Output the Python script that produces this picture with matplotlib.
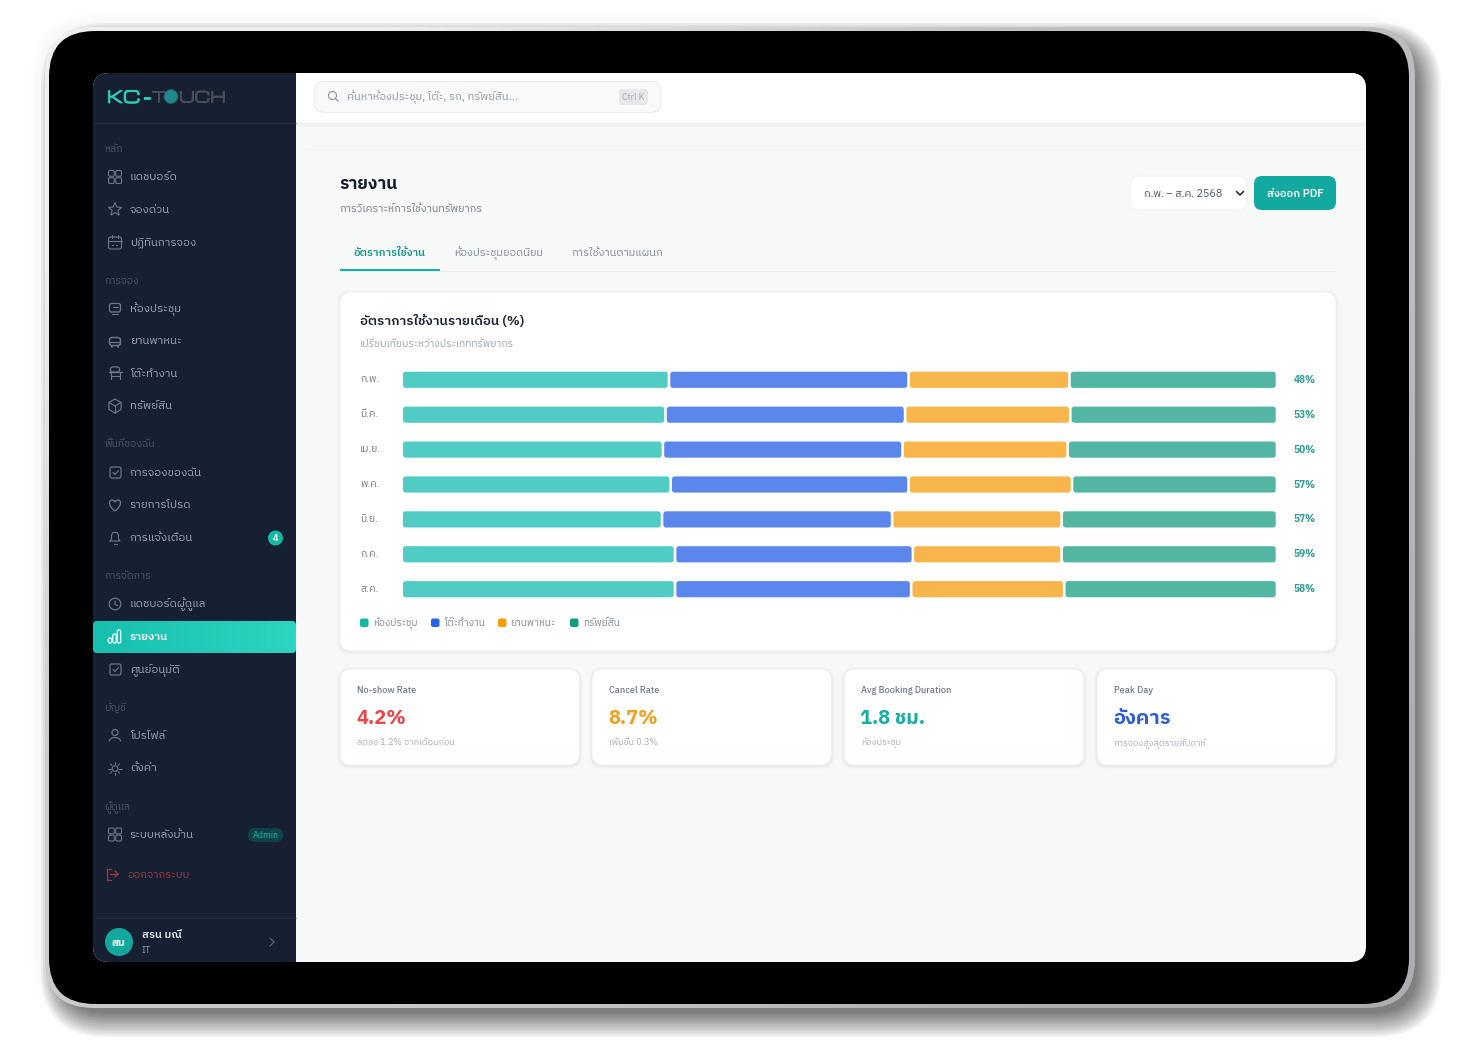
# Report dashboard on a tablet mockup
import matplotlib
matplotlib.use('Agg')
import matplotlib.pyplot as plt
import matplotlib.patheffects as pe
import numpy as np
from matplotlib.colors import LinearSegmentedColormap
from matplotlib.patches import FancyBboxPatch, Circle, Rectangle, Polygon, Arc, PathPatch
from matplotlib.path import Path

plt.rcParams['font.family'] = ['IBM Plex Sans Thai', 'Noto Sans Thai', 'Loma', 'DejaVu Sans']

W, H = 1459, 1042

# chart data, share of each monthly bar (%)
months = ['ก.พ.', 'มี.ค.', 'เม.ย.', 'พ.ค.', 'มิ.ย.', 'ก.ค.', 'ส.ค.']
room_share = [30.6, 30.2, 29.9, 30.8, 29.8, 31.3, 31.3]
desk_share = [27.4, 27.4, 27.4, 27.2, 26.3, 27.2, 27.0]
vehicle_share = [18.3, 18.8, 18.8, 18.6, 19.3, 16.9, 17.4]
asset_share = [23.7, 23.6, 23.9, 23.4, 24.6, 24.6, 24.3]
usage_labels = ['48%', '53%', '50%', '57%', '57%', '59%', '58%']
legend_names = ['ห้องประชุม', 'โต๊ะทำงาน', 'ยานพาหนะ', 'ทรัพย์สิน']

kpi_titles = ['No-show Rate', 'Cancel Rate', 'Avg Booking Duration', 'Peak Day']
kpi_values = ['4.2%', '8.7%', '1.8 ชม.', 'อังคาร']
kpi_notes = ['ลดลง 1.2% จากเดือนก่อน', 'เพิ่มขึ้น 0.3%', 'ห้องประชุม', 'การจองสูงสุดรายสัปดาห์']
kpi_colors = ['#E8474C', '#EFA020', '#17AFA3', '#2F5FD0']

bar_colors = ['#50CCC5', '#5B86EC', '#F8B54C', '#52B6A3']
legend_colors = ['#14B8A6', '#2563EB', '#F59E0B', '#0F9D82']

fig = plt.figure(figsize=(W / 100, H / 100), dpi=100, facecolor='white')
ax = fig.add_axes([0, 0, 1, 1])
ax.set_xlim(0, W)
ax.set_ylim(H, 0)
ax.axis('off')


def lw(px):
    return px * 0.72


def box(x0, y0, x1, y1, r, fc='white', ec='none', elw=1, z=2, alpha=None, a=ax):
    p = FancyBboxPatch((x0 + r, y0 + r), x1 - x0 - 2 * r, y1 - y0 - 2 * r,
                       boxstyle=f'round,pad={r},rounding_size={r}',
                       fc=fc, ec=ec, lw=lw(elw), zorder=z, alpha=alpha)
    a.add_patch(p)
    return p


def soft_shadow(x0, y0, x1, y1, r, spread, dx, dy, color, alpha, steps, z, shrink=0):
    for i in range(steps):
        s = spread - (spread + shrink) * i / steps
        box(x0 + dx - s, y0 + dy - s, x1 + dx + s, y1 + dy + s, max(r + s, 2), fc=color, alpha=alpha, z=z)


def txt(x, y, s, px, color, weight=400, ha='left', z=10, **kw):
    # y is the visual middle of the x-height band
    if ha == 'left':
        x = x - 0.7
    return ax.text(x, y + 0.36 * px, s, fontsize=px * 0.72, color=color, weight=weight,
                   ha=ha, va='baseline', zorder=z, **kw)


def line(xs, ys, color, w=1.1, z=9, **kw):
    ax.plot(xs, ys, color=color, lw=lw(w), zorder=z, solid_capstyle='round',
            solid_joinstyle='round', **kw)


def rule(xs, ys, color, w=1, z=6):
    ax.plot(xs, ys, color=color, lw=lw(w), zorder=z, solid_capstyle='butt')


# tablet body: faint glow all round, heavier shadow to the lower right
soft_shadow(49, 31, 1409, 1005, 46, 18, 0, 0, '#000000', 0.007, 6, 1)
soft_shadow(49, 31, 1409, 1005, 46, 20, 12, 12, '#000000', 0.05, 12, 1, shrink=6)
rim = box(45, 27, 1415, 1008, 49, fc='none', z=2)
rim_img = ax.imshow(np.array([[0.0, 0.75], [0.55, 1.0]]), extent=(45, 1415, 1008, 27), aspect='auto',
                    interpolation='bilinear', zorder=2, vmin=0, vmax=1,
                    cmap=LinearSegmentedColormap.from_list('rim', ['#ECEEF2', '#ABADB1']))
rim_img.set_clip_path(rim)
box(49, 31, 1409, 1004, 46, fc='#000000', z=3)
screen = box(93, 73, 1366, 962, 16, fc='#F7F9F9', z=4)

# sidebar and top bar are clipped to the screen corners
side = Rectangle((93, 73), 203, 889, fc='#172033', ec='none', zorder=5)
ax.add_patch(side)
side.set_clip_path(screen)
topbar = Rectangle((296, 73), 1070, 50, fc='white', ec='none', zorder=5)
ax.add_patch(topbar)
topbar.set_clip_path(screen)
for i in range(4):
    ax.add_patch(Rectangle((296, 123 + i), 1069.5, 1, fc='#E8ECEE', alpha=0.7 - i * 0.17, ec='none', zorder=5))
rule([306, 1365], [148.5, 148.5], '#F0F2F3', z=5)
rule([93, 296], [122.5, 122.5], '#222C40')
rule([93, 295.5], [917.5, 917.5], '#222C40')

# logo
logo_font = ['Michroma', 'Inter', 'DejaVu Sans']
teal_fx = [pe.withStroke(linewidth=0.6, foreground='#2CCFB8')]
grey_fx = [pe.withStroke(linewidth=0.6, foreground='#4A4F57')]
txt(107.5, 97, 'KC', 16.5, '#2CCFB8', 400, family=logo_font, path_effects=teal_fx)
txt(144, 97, '-', 15, '#2CCFB8', 400, family=logo_font, path_effects=teal_fx)
txt(152, 97, 'T', 15, '#4A4F57', 400, family=logo_font, path_effects=grey_fx)
ax.add_patch(Circle((171, 96.5), 7, fc='#1B8C8E', ec='#3A4A55', lw=lw(1), zorder=10))
txt(180, 97, 'UCH', 14.8, '#4A4F57', 400, family=logo_font, path_effects=grey_fx)

# sidebar texts
sections = [('หลัก', 148), ('การจอง', 280), ('พื้นที่ของฉัน', 443), ('การจัดการ', 575), ('บัญชี', 707), ('ผู้ดูแล', 806)]
for s, y in sections:
    txt(105, y, s, 10.5, '#4B566A')

nav_items = [('แดชบอร์ด', 176), ('จองด่วน', 209), ('ปฏิทินการจอง', 241), ('ห้องประชุม', 308),
             ('ยานพาหนะ', 340), ('โต๊ะทำงาน', 373), ('ทรัพย์สิน', 405), ('การจองของฉัน', 472),
             ('รายการโปรด', 504), ('การแจ้งเตือน', 537), ('แดชบอร์ดผู้ดูแล', 603), ('ศูนย์อนุมัติ', 669),
             ('โปรไฟล์', 735), ('ตั้งค่า', 767), ('ระบบหลังบ้าน', 834)]
for s, y in nav_items:
    txt(130.5, y, s, 11.5, '#9AA8BC')

# active item
band = box(93, 621, 296, 653, 4, fc='none', z=6)
grad = np.linspace(0, 1, 64).reshape(1, -1)
im = ax.imshow(grad, extent=(93, 296, 653, 621), aspect='auto', zorder=6,
               cmap=LinearSegmentedColormap.from_list('a', ['#17BFAE', '#2DD4BF']))
im.set_clip_path(band)
ax.set_xlim(0, W)
ax.set_ylim(H, 0)
txt(130.5, 636, 'รายงาน', 11.5, 'white', 600)
for bx, top in [(110, 638), (114.5, 634), (119, 630)]:
    box(bx - 1.7, top, bx + 1.7, 643, 1.6, fc='none', ec='white', elw=1.2, z=9)

# notification badge, admin pill, logout, user
ax.add_patch(Circle((275.5, 538), 7.5, fc='#14B8A6', zorder=8))
txt(275.5, 537.5, '4', 9, 'white', 700, ha='center')
box(248, 828, 283, 842, 7, fc='#10424A', z=8)
txt(265.5, 834.5, 'Admin', 9, '#1BAFA3', 400, ha='center')
txt(128, 874, 'ออกจากระบบ', 11, '#A03A40')
ax.add_patch(Circle((119, 942), 14, fc='#12A89D', zorder=8))
txt(119, 942, 'สม', 11, 'white', 700, ha='center')
txt(142.5, 934, 'สรน มณี', 11, '#E2E8F0', 600)
txt(142.5, 950, 'IT', 9.5, '#8592A6')
line([270, 274, 270], [938, 942, 946], '#5F6B7E', 1.1)

# sidebar icons
ic = '#6B788C'


def grid_icon(cx, cy):
    for dx in (-3.6, 3.6):
        for dy in (-3.6, 3.6):
            box(cx + dx - 2.9, cy + dy - 2.9, cx + dx + 2.9, cy + dy + 2.9, 1.4, fc='none', ec=ic, elw=1.1, z=9)


grid_icon(115, 177)
grid_icon(115, 834.5)
ang = np.deg2rad(np.arange(0, 360, 36) - 90)
rad = np.where(np.arange(10) % 2 == 0, 7, 3)
ax.add_patch(Polygon(np.c_[115 + rad * np.cos(ang), 209.5 + rad * np.sin(ang)], fc='none', ec=ic, lw=lw(1.1), zorder=9))
# calendar
box(108.5, 237, 121.5, 249, 2, fc='none', ec=ic, elw=1.1, z=9)
line([108.5, 121.5], [241, 241], ic)
line([112, 112], [235, 238], ic)
line([118, 118], [235, 238], ic)
line([112, 113], [245, 245], ic)
line([116, 117], [245, 245], ic)
# room
box(109.5, 303.5, 120.5, 312, 2, fc='none', ec=ic, elw=1.3, z=9)
line([112.5, 117.5], [307, 307], ic)
line([112, 118], [314, 314], ic)
# vehicle
box(109.5, 337.5, 120.5, 345.5, 2.5, fc='none', ec=ic, elw=1.4, z=9)
line([110, 120], [341.5, 341.5], ic, 1.2)
line([112, 112], [345.5, 347], ic, 1.8)
line([118, 118], [345.5, 347], ic, 1.8)
# desk
box(110.5, 367, 119.5, 372, 2, fc='none', ec=ic, elw=1.2, z=9)
line([108.5, 121.5], [372, 372], ic, 1.3)
line([110.5, 110.5], [372, 378.5], ic, 1.2)
line([119.5, 119.5], [372, 378.5], ic, 1.2)
line([110.5, 119.5], [375.5, 375.5], ic, 1.1)
# asset
hex_ang = np.deg2rad(np.arange(30, 390, 60))
ax.add_patch(Polygon(np.c_[115 + 7 * np.cos(hex_ang), 406 + 7 * np.sin(hex_ang)], fc='none', ec=ic, lw=lw(1.2), zorder=9))
line([109, 115, 121], [402.5, 406, 402.5], ic)
line([115, 115], [406, 413], ic)
# my bookings and approve
for cy in (472.5, 669.5):
    box(110, cy - 5.5, 121, cy + 5.5, 1.8, fc='none', ec=ic, elw=1.2, z=9)
    line([113, 115, 118.5], [cy, cy + 2, cy - 2], ic)
# heart
heart = Path([(115, 511), (108, 506), (108.5, 500), (112, 500), (114, 500), (115, 502), (115, 502),
              (115, 502), (116, 500), (118, 500), (121.5, 500), (122, 506), (115, 511)],
             [Path.MOVETO, Path.CURVE4, Path.CURVE4, Path.CURVE4, Path.CURVE4, Path.CURVE4, Path.CURVE4,
              Path.CURVE4, Path.CURVE4, Path.CURVE4, Path.CURVE4, Path.CURVE4, Path.CURVE4])
ax.add_patch(PathPatch(heart, fc='none', ec=ic, lw=lw(1.3), zorder=9))
# bell
line([110, 111.5, 111.5, 113, 117, 118.5, 118.5, 120, 110], [541, 539, 535, 532.5, 532.5, 535, 539, 541, 541], ic)
line([113.5, 116.5], [543.5, 543.5], ic)
# clock
ax.add_patch(Circle((115, 604), 5.8, fc='none', ec=ic, lw=lw(1.2), zorder=9))
line([115, 115, 117.5], [601, 604.5, 605.5], ic)
# profile
ax.add_patch(Circle((115, 732.5), 3, fc='none', ec=ic, lw=lw(1.2), zorder=9))
ax.add_patch(Arc((115, 741.5), 11.5, 8, theta1=180, theta2=360, ec=ic, lw=lw(1.2), zorder=9))
# settings
ax.add_patch(Circle((115, 768.5), 2.8, fc='none', ec=ic, lw=lw(1.1), zorder=9))
for a_ in np.deg2rad(np.arange(0, 360, 45)):
    line([115 + 4.4 * np.cos(a_), 115 + 6.6 * np.cos(a_)], [768.5 + 4.4 * np.sin(a_), 768.5 + 6.6 * np.sin(a_)], ic, 1)
# logout
line([111, 107, 107, 111], [869, 869, 879.5, 879.5], '#A03A40', 1.3)
line([109.5, 118], [874, 874], '#A03A40', 1.3)
line([115, 118, 115], [871, 874, 877], '#A03A40', 1.3)

# search box
box(314.5, 81.5, 661, 112.5, 10, fc='#F8FAFA', ec='#E8EBED', z=6)
ax.add_patch(Circle((332.5, 95.5), 4, fc='none', ec='#8E98A5', lw=lw(1.2), zorder=9))
line([335.5, 338.5], [98.5, 101.5], '#8E98A5', 1.2)
txt(347.7, 96, 'ค้นหาห้องประชุม, โต๊ะ, รถ, ทรัพย์สิน...', 11.1, '#8D96A3')
box(619, 89, 648, 105, 3, fc='#E6E8EB', z=7)
txt(633.5, 97, 'Ctrl K', 9, '#A2A9B3', ha='center')

# page heading
txt(340, 183, 'รายงาน', 17.3, '#141C2B', 700)
txt(340, 208, 'การวิเคราะห์การใช้งานทรัพยากร', 10.8, '#6F7886')
box(1130, 176, 1247, 210, 9, fc='white', ec='#EEF0F2', z=6)
txt(1144.7, 193, 'ก.พ. – ส.ค. 2568', 10.8, '#475161')
line([1236.5, 1240, 1243.5], [191.5, 195, 191.5], '#202733', 1.6)
box(1254, 176, 1336, 210, 8, fc='#12A9A1', z=6)
txt(1295, 193, 'ส่งออก PDF', 11, 'white', 600, ha='center')

# tabs
txt(354, 252, 'อัตราการใช้งาน', 11, '#14948A', 600)
txt(455, 252, 'ห้องประชุมยอดนิยม', 11, '#7E8794')
txt(572, 252, 'การใช้งานตามแผนก', 11, '#7E8794')
rule([340, 1336], [270.5, 270.5], '#E8EBED')
rule([340, 440], [270, 270], '#14B0A3', 2, 7)

# chart card
soft_shadow(340, 292, 1336, 651, 11, 3, 0, 1, '#8090A0', 0.03, 3, 5)
box(340, 292, 1336, 651, 11, fc='white', ec='#EEF0F2', z=6)
txt(360.7, 320, 'อัตราการใช้งานรายเดือน (%)', 13.4, '#1C2433', 600)
txt(360.7, 343, 'เปรียบเทียบระหว่างประเภททรัพยากร', 10.2, '#9AA2AE')

# bars, drawn on their own axes: x is the share of the bar, y the month
bx0, bx1 = 403, 1275.7
by0 = 379.8 - 17.45
by1 = by0 + 7 * 34.9
ax_bar = fig.add_axes([bx0 / W, 1 - by1 / H, (bx1 - bx0) / W, (by1 - by0) / H])
ax_bar.patch.set_alpha(0)
ax_bar.axis('off')
gap_px = 2.6
bar_h_px = 16.2
radius_px = 2.5
unit_per_px = 100 / (bx1 - bx0 - 3 * gap_px)
gap = gap_px * unit_per_px
inset = radius_px * unit_per_px
ax_bar.set_xlim(0, 100 + 3 * gap)
ax_bar.set_ylim(6.5, -0.5)
ypos = np.arange(len(months))
left = np.zeros(len(months))
for k, vals in enumerate([room_share, desk_share, vehicle_share, asset_share]):
    vals = np.array(vals)
    # round line joins give the bars their soft corners
    ax_bar.barh(ypos, vals - 2 * inset, left=left + inset, height=(bar_h_px - 2 * radius_px) / 34.9,
                color=bar_colors[k], edgecolor=bar_colors[k], linewidth=lw(2 * radius_px),
                joinstyle='round', zorder=3, snap=False)
    left = left + vals + gap
for i, m in enumerate(months):
    ax_bar.text((360 - bx0) / (bx1 - bx0), i, m, transform=ax_bar.get_yaxis_transform(),
                fontsize=7.4, color='#6F7886', va='center')
    ax_bar.text((1293.6 - bx0) / (bx1 - bx0), i, usage_labels[i], transform=ax_bar.get_yaxis_transform(),
                fontsize=7.3, color='#2E9C94', weight=700, va='center')

# legend
legend_x = [360, 431, 498, 570]
for n, c, x in zip(legend_names, legend_colors, legend_x):
    box(x, 618.5, x + 8.5, 627, 2, fc=c, z=8)
    txt(x + 13.5, 622.5, n, 10, '#7E8794')

# KPI cards
card_x = [(340, 579.5), (592, 831.5), (844, 1084), (1097, 1335.5)]
for (x0, x1), title, value, note, c in zip(card_x, kpi_titles, kpi_values, kpi_notes, kpi_colors):
    soft_shadow(x0, 669, x1, 765, 11, 3, 0, 1, '#8090A0', 0.04, 3, 5)
    box(x0, 669, x1, 765, 11, fc='white', ec='#EDEFF1', z=6)
    txt(x0 + 17.7, 689.5, title, 9.2, '#6F7886', 500)
    txt(x0 + 17.2, 716.5, value, 20, c, 700)
    txt(x0 + 17.7, 742, note, 9, '#A4ABB6')

fig.savefig('out.png', dpi=100, facecolor='white')
